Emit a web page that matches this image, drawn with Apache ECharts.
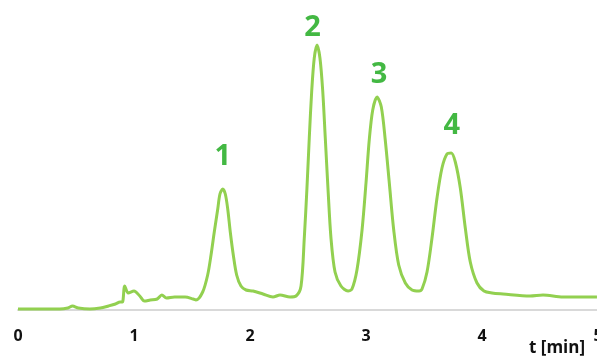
<!DOCTYPE html>
<html>
<head>
<meta charset="utf-8">
<script src="https://cdn.jsdelivr.net/npm/echarts@6/dist/echarts.min.js"></script>
<style>html,body{margin:0;padding:0;background:#fff;}#c{width:597px;height:358px;}</style>
</head>
<body>
<div id="c"></div>
<script>
// retention time [min]
var times = [0, 0.19, 0.36, 0.43, 0.47, 0.52, 0.62, 0.71, 0.78, 0.84, 0.88, 0.90, 0.92, 0.95, 1.00, 1.05, 1.09, 1.14, 1.20, 1.24, 1.28, 1.35, 1.44, 1.51,
  1.534, 1.592, 1.635, 1.664, 1.692, 1.722, 1.741, 1.765, 1.787, 1.808, 1.830, 1.856, 1.885, 1.922, 1.966, 2.026, 2.112, 2.198, 2.259, 2.345,
  2.397, 2.440, 2.468, 2.491, 2.511, 2.532, 2.554, 2.578, 2.603, 2.627, 2.649, 2.672, 2.698, 2.733, 2.784, 2.845,
  2.879, 2.922, 2.966, 3.000, 3.028, 3.058, 3.095, 3.132, 3.166, 3.201, 3.239, 3.282, 3.339, 3.397,
  3.457, 3.483, 3.526, 3.569, 3.612, 3.655, 3.698, 3.735, 3.770, 3.813, 3.856, 3.899, 3.957, 4.017, 4.086, 4.181, 4.414, 4.526, 4.698, 4.991];
// detector signal (arbitrary units)
var signal = [1, 1, 1, 2, 4, 2, 1, 2, 4, 6, 8, 8, 24, 17, 19, 14, 9, 10, 11, 15, 12, 13, 13, 11,
  10, 18, 35, 55, 78, 101, 116, 121, 116, 101, 78, 55, 35, 24, 20, 19, 16, 13, 15, 13,
  14, 24, 72, 122, 172, 219, 252, 265, 252, 219, 172, 122, 72, 38, 24, 19,
  21, 40, 80, 127, 170, 200, 213, 203, 170, 127, 80, 45, 27, 20,
  19, 21, 38, 72, 112, 142, 156, 157, 148, 122, 82, 48, 27, 19, 17, 16, 14, 15, 13, 13];
// peak labels
var peakNames = ['1', '2', '3', '4'];
var peakTimes = [1.765, 2.54, 3.112, 3.74];
var peakLabelLevels = [153, 282, 235, 184.5];
var tickLabels = ['0', '1', '2', '3', '4', '5'];
var axisTitle = 't [min]';

var lineData = times.map(function (t, i) { return [t, signal[i]]; });
var labelData = peakNames.map(function (n, i) { return { value: [peakTimes[i], peakLabelLevels[i]], name: n }; });

var chart = echarts.init(document.getElementById('c'));
chart.setOption({
  animation: false,
  grid: { left: 18, width: 580, top: 10, bottom: 48, containLabel: false, outerBoundsMode: 'none' },
  xAxis: {
    type: 'value', min: 0, max: 5, interval: 1,
    axisLine: { show: true, lineStyle: { color: '#d9d9d9', width: 2 } },
    axisTick: { show: false },
    splitLine: { show: false },
    axisLabel: {
      margin: 18, color: '#111', fontSize: 16, fontWeight: 'bold',
      fontFamily: 'Open Sans, Liberation Sans, sans-serif',
      showMaxLabel: true, showMinLabel: true, hideOverlap: false,
      formatter: function (v) { return tickLabels[Math.round(v)]; }
    }
  },
  yAxis: { type: 'value', min: 0, max: 300, show: false },
  series: [
    {
      type: 'line', data: lineData, smooth: 0.3, showSymbol: false,
      lineStyle: { color: '#92D050', width: 3 }, z: 3
    },
    {
      type: 'scatter', data: labelData, symbolSize: 0,
      label: {
        show: true, position: 'inside', formatter: '{b}',
        color: '#14A614', fontSize: 29, fontWeight: 'bold',
        fontFamily: 'Open Sans, Liberation Sans, sans-serif'
      }
    }
  ],
  graphic: [{
    type: 'text', left: 529, top: 340,
    style: { text: axisTitle, fill: '#111', font: 'bold 17px "Open Sans", "Liberation Sans", sans-serif' }
  }]
});
</script>
</body>
</html>
